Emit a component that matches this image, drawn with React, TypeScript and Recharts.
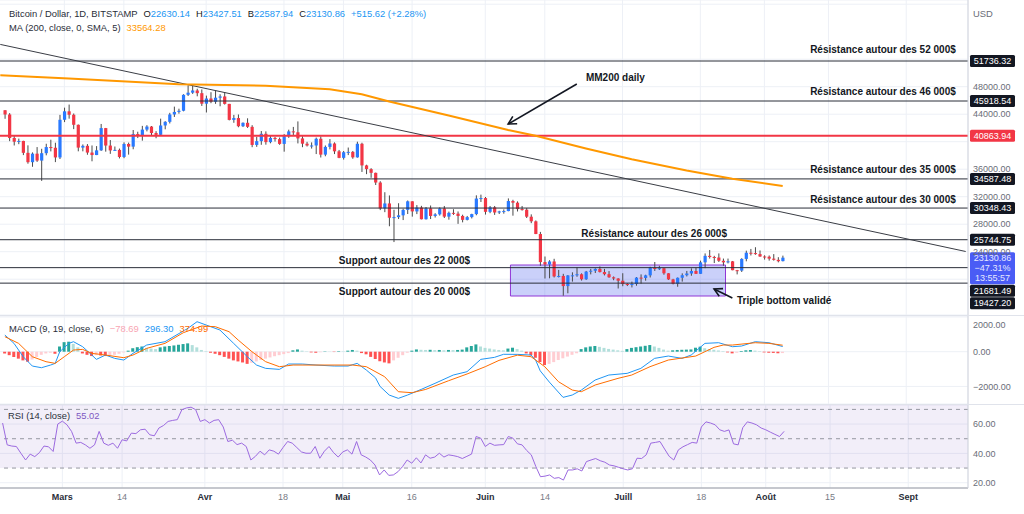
import React from 'react';
import {
  ComposedChart,
  Bar,
  Line,
  XAxis,
  YAxis,
  CartesianGrid,
  ReferenceLine,
  ReferenceArea,
  ReferenceDot,
  Cell,
} from 'recharts';

const FONT = '"Liberation Sans", Arial, sans-serif';
const UP = '#2979ff';
const DOWN = '#f23645';
const WICK = '#4a4a4a';
const GRID = '#edf0f6';

// time axis: one slot per day, 15 Feb 2022 -> 14 Sep 2022
const firstDay = Date.UTC(2022, 1, 15);
const days = Array.from({ length: 212 }, (_, i) =>
  new Date(firstDay + i * 86400000).toISOString().slice(5, 10)
);

const tickDays = ['03-01', '03-14', '04-01', '04-18', '05-01', '05-16', '06-01', '06-14', '07-01', '07-18', '08-01', '08-15', '09-01'];
const tickNames = ['Mars', '14', 'Avr', '18', 'Mai', '16', 'Juin', '14', 'Juill', '18', 'Août', '15', 'Sept'];
const monthNames = ['Mars', 'Avr', 'Mai', 'Juin', 'Juill', 'Août', 'Sept'];

// daily candles from 16 Feb: [open, high, low, close]
const seriesStart = '02-16';
const candles: number[][] = [
  [44575, 44580, 43330, 43960], [43960, 44160, 40080, 40540], [40540, 40950, 39450, 40000], [40000, 40450, 39640, 40110],
  [40110, 40140, 38050, 38380], [38380, 39470, 36800, 37020], [37020, 38440, 36350, 38260], [38260, 39220, 37060, 37250],
  [37250, 38970, 34300, 38330], [38330, 39700, 38020, 39220], [39220, 40290, 38590, 39120], [39120, 39850, 37030, 37710],
  [37710, 43900, 37480, 43190],
  // mars
  [43190, 44950, 42850, 44420], [44420, 45400, 43350, 43920], [43920, 44100, 41830, 42460], [42460, 42500, 38600, 39140],
  [39140, 39600, 38600, 39400], [39400, 39650, 38100, 38420], [38420, 39450, 37150, 38060], [38060, 39360, 38050, 38740],
  [38740, 42580, 38660, 41980], [41980, 42000, 38550, 39440], [39440, 40240, 38230, 38730], [38730, 39300, 38700, 38810],
  [38810, 39000, 37570, 37780], [37780, 39900, 37600, 39670], [39670, 39870, 38120, 39280], [39280, 41700, 38900, 41110],
  [41110, 41450, 40530, 40920], [40920, 42300, 40150, 41760], [41760, 42400, 41500, 42200], [42200, 42280, 40900, 41260],
  [41260, 41530, 40500, 41000], [41000, 43350, 40900, 42360], [42360, 42990, 41800, 42890], [42890, 44200, 42650, 43960],
  [43960, 45100, 43600, 44330], [44330, 44800, 44080, 44500], [44500, 46900, 44420, 46820], [46820, 48200, 46650, 47130],
  [47130, 48100, 46950, 47450], [47450, 47700, 46600, 47060], [47060, 47600, 45200, 45530],
  // avril
  [45530, 46700, 44250, 46280], [46280, 47200, 45600, 45810], [45810, 47450, 45500, 46400], [46400, 46900, 45150, 46580],
  [46580, 47200, 45400, 45500], [45500, 45500, 43100, 43170], [43170, 43900, 42750, 43440], [43440, 43960, 42100, 42250],
  [42250, 42800, 42130, 42750], [42750, 43400, 42000, 42160], [42160, 42400, 39200, 39530], [39530, 40700, 39250, 40080],
  [40080, 41550, 39550, 41150], [41150, 41500, 39570, 39940], [39940, 40870, 39770, 40550], [40550, 40700, 40020, 40380],
  [40380, 40600, 39550, 39680], [39680, 41100, 38550, 40800], [40800, 41750, 40560, 41500], [41500, 42150, 40850, 41370],
  [41370, 42950, 39750, 40480], [40480, 40800, 39200, 39710], [39710, 39980, 39300, 39450], [39450, 39900, 39000, 39450],
  [39450, 40600, 38200, 40430], [40430, 40780, 37700, 38120], [38120, 39450, 37880, 39240], [39240, 40380, 38880, 39740],
  [39740, 39900, 38200, 38600], [38600, 38800, 37600, 37650],
  // mai
  [37650, 38650, 37400, 38470], [38470, 39150, 38050, 38520], [38520, 38650, 37520, 37720], [37720, 40000, 37680, 39700],
  [39700, 39850, 35600, 36550], [36550, 36650, 35280, 36010], [36010, 36150, 34750, 35470], [35470, 35500, 33700, 34060],
  [34060, 34250, 30050, 30300], [30300, 32650, 29750, 31020], [31020, 32180, 27700, 28940], [28940, 30100, 25400, 29030],
  [29030, 31050, 28750, 29290], [29290, 30250, 28600, 30080], [30080, 31450, 29480, 31330], [31330, 31330, 29100, 29860],
  [29860, 30780, 29470, 30420], [30420, 30670, 28700, 28720], [28720, 30500, 28680, 30300], [30300, 30720, 28750, 29200],
  [29200, 29600, 28970, 29430], [29430, 30450, 29250, 30290], [30290, 30650, 28900, 29100], [29100, 29830, 28660, 29650],
  [29650, 30180, 29350, 29540], [29540, 29850, 28050, 29200], [29200, 29380, 28270, 28630], [28630, 29200, 28550, 29030],
  [29030, 29520, 28840, 29470], [29470, 32200, 29300, 31730], [31730, 32300, 31230, 31800],
  // juin
  [31800, 31960, 29400, 29800], [29800, 30650, 29600, 30450], [30450, 30650, 29350, 29700], [29700, 29950, 29480, 29860],
  [29860, 30150, 29530, 29910], [29910, 31750, 29880, 31370], [31370, 31550, 29240, 31130], [31130, 31320, 29850, 30200],
  [30200, 30650, 29980, 30110], [30110, 30330, 28900, 29090], [29090, 29430, 28150, 28420], [28420, 28550, 26560, 26570],
  [26570, 26880, 21950, 22490], [22490, 23300, 20100, 22140], [22140, 22770, 20130, 22580], [22580, 22970, 20250, 20400],
  [20400, 21350, 20250, 20470], [20470, 20780, 17600, 19000], [19000, 20600, 17950, 20550], [20550, 21000, 19650, 20560],
  [20560, 21700, 20350, 20720], [20720, 20850, 19800, 19990], [19990, 21200, 19900, 21100], [21100, 21500, 20700, 21230],
  [21230, 21580, 20900, 21500], [21500, 21850, 20980, 21040], [21040, 21500, 20550, 20730], [20730, 21180, 20200, 20280],
  [20280, 20400, 19850, 20100], [20100, 20150, 18650, 19780],
  // juillet
  [19780, 20870, 18980, 19300], [19300, 19420, 19000, 19250], [19250, 19650, 18800, 19300], [19300, 20300, 19050, 20230],
  [20230, 20700, 19350, 20180], [20180, 20650, 19780, 20560], [20560, 21800, 20250, 21640], [21640, 22500, 21200, 21600],
  [21600, 21950, 21350, 21600], [21600, 21600, 20650, 20860], [20860, 20870, 19900, 19970], [19970, 20050, 19250, 19330],
  [19330, 20250, 18900, 20210], [20210, 20850, 19650, 20580], [20580, 21200, 20400, 20830], [20830, 21580, 20500, 21190],
  [21190, 21670, 20780, 20780], [20780, 22700, 20770, 22450], [22450, 23750, 21600, 23400], [23400, 24250, 23000, 23230],
  [23230, 23400, 22350, 23150], [23150, 23750, 22500, 22680], [22680, 23000, 21950, 22450], [22450, 23000, 22300, 22600],
  [22600, 22650, 21300, 21310], [21310, 21350, 20700, 21250], [21250, 23050, 21050, 22950], [22950, 24150, 22600, 23850],
  [23850, 24400, 23450, 23800], [23800, 24650, 23550, 23650], [23650, 24180, 23250, 23300],
  // août
  [23300, 23480, 22850, 23270], [23270, 23450, 22700, 22990], [22990, 23650, 22700, 22820], [22820, 23200, 22450, 22615.24],
  [22630.14, 23427.51, 22587.94, 23130.86],
];

// 200 day moving average, read every few days
const ma200: [string, number][] = [
  ['02-15', 49650], ['03-02', 49200], ['03-26', 48350], ['04-14', 48150], ['04-28', 47620], ['05-05', 46900],
  ['05-11', 45850], ['05-24', 43800], ['06-06', 41700], ['06-12', 40860], ['06-23', 39000], ['07-03', 37460],
  ['07-15', 35800], ['07-25', 34600], ['08-05', 33564.28],
];

// drawn trend line (two anchors)
const trendLine: [string, number][] = [['02-15', 54150], ['09-14', 24030]];

const levels = [51736.32, 45918.54, 40863.94, 34587.48, 30348.43, 25744.75, 21681.49, 19427.2];
const lastClose = 23130.86;

const macdLine: [string, number][] = [
  ['02-16', 960], ['02-18', 480], ['02-20', -288], ['02-22', -826], ['02-24', -922], ['02-26', -768], ['02-27', -672],
  ['02-28', 0], ['03-02', 480], ['03-03', 576], ['03-05', 288], ['03-07', -192], ['03-08', -442], ['03-10', -192],
  ['03-12', -384], ['03-14', -480], ['03-16', -96], ['03-19', 384], ['03-23', 576], ['03-28', 1344], ['03-30', 1728],
  ['04-01', 1536], ['04-04', 1248], ['04-07', 480], ['04-10', -288], ['04-12', -768], ['04-14', -960], ['04-17', -1018],
  ['04-19', -710], ['04-22', -710], ['04-25', -768], ['04-29', -826], ['05-02', -826], ['05-04', -672], ['05-06', -1056],
  ['05-08', -1500], ['05-09', -2000], ['05-11', -2496], ['05-13', -2688], ['05-15', -2496], ['05-18', -2170],
  ['05-21', -1824], ['05-25', -1344], ['05-28', -1152], ['05-31', -442], ['06-03', -326], ['06-05', -150], ['06-08', -154],
  ['06-11', -192], ['06-12', -480], ['06-13', -1100], ['06-15', -1750], ['06-18', -2630], ['06-20', -2496],
  ['06-22', -2208], ['06-25', -1632], ['06-28', -1344], ['07-02', -1248], ['07-05', -960], ['07-08', -384],
  ['07-11', -250], ['07-14', -384], ['07-16', -192], ['07-19', 480], ['07-22', 518], ['07-25', 288], ['07-27', 326],
  ['07-30', 576], ['08-02', 518], ['08-05', 296.3],
];

const signalLine: [string, number][] = [
  ['02-16', 864], ['02-19', 480], ['02-22', -288], ['02-25', -576], ['02-27', -672], ['03-01', -288], ['03-03', 96],
  ['03-05', 134], ['03-07', -96], ['03-10', -192], ['03-14', -346], ['03-16', -192], ['03-19', 192], ['03-23', 480],
  ['03-27', 1094], ['03-31', 1478], ['04-03', 1440], ['04-06', 1152], ['04-08', 672], ['04-11', 0], ['04-14', -576],
  ['04-17', -864], ['04-20', -768], ['04-25', -768], ['05-03', -768], ['05-06', -864], ['05-10', -1440], ['05-13', -2304],
  ['05-16', -2362], ['05-19', -2170], ['05-24', -1670], ['05-28', -1286], ['06-01', -864], ['06-04', -500],
  ['06-08', -200], ['06-11', -288], ['06-14', -864], ['06-17', -1728], ['06-20', -2208], ['06-22', -2304],
  ['06-25', -1920], ['06-30', -1536], ['07-03', -1344], ['07-07', -864], ['07-11', -480], ['07-17', -250],
  ['07-19', 0], ['07-21', 250], ['07-23', 384], ['07-25', 384], ['07-30', 518], ['08-02', 480], ['08-05', 374.99],
];

// MACD histogram, daily from 16 Feb
const histogram = [
  -100, -200, -300, -400, -500, -576, -450, -300, -180, -100, -60, -120, 300,
  550, 576, 450, 250, -100, -180, -250, -200, -220, -250, -200, -180, -120, -40, 60, 200, 260, 300, 220, 180, 150, 250, 300, 330, 360, 400, 440, 480, 380, 250, 100,
  30, -60, -120, -200, -300, -400, -500, -560, -620, -700, -640, -560, -480, -400, -330, -260, -200, -140, -80, 80, 130, 60, 20, -40, -60, -30, 20, 10, -20, 30,
  20, 60, 100, 60, -80, -150, -300, -420, -550, -620, -672, -500, -350, -200, -60, 60, 130, 110, 100, 110, 90, 100, 80, 100, 90, 100, 120, 250, 330, 420, 300,
  220, 180, 130, 100, 80, 180, 230, 150, 60, -100, -200, -350, -600, -768, -700, -600, -480, -380, -280, -180, -90, 150, 250, 300, 330, 280, 220, 160, 120, 80,
  50, 150, 220, 260, 300, 340, 384, 300, 220, 120, 60, 80, 100, 110, 120, 130, 230, 290, 200, 150, 110, 70, 30, -40, -96, -60, 40, 80, 96, 60, 30,
  -40, -60, -70, -90, -78.69,
];

// RSI 14, daily from 16 Feb
const rsiValues = [
  60.7, 45.8, 45, 44.7, 40, 35.5, 39.5, 37.8, 40.5, 45, 44.5, 41.3, 60,
  62, 59.5, 55, 47, 47.5, 45.8, 43.5, 45.8, 55, 47, 45.5, 47, 43.5, 49.3, 48.5, 53.8, 53.5, 56.1, 56.5, 52.7, 52, 57.3, 59, 61.8, 62.5, 63, 69.8, 71, 71.5, 69.8, 61.8,
  63, 60.7, 62.5, 63, 58, 48.1, 49, 46, 47, 44.7, 35.5, 38, 41.5, 39, 42.4, 41.5, 39.5, 44, 48.1, 47, 44, 41, 40.1, 40.1, 44.7, 36.7, 41.5, 44.7, 40.5, 37.5,
  41, 42.4, 39.5, 48.1, 39, 37.5, 35.5, 32.1, 25.3, 28.7, 25, 25.3, 27.5, 31, 35.5, 33.3, 37, 33.5, 39, 36.7, 37.5, 40.1, 37.5, 39, 38.5, 37.8, 36.5, 38, 39.5, 51.5, 50.4,
  44.7, 47, 45.5, 45.8, 46, 51.5, 50.4, 46.5, 45.8, 42, 39, 31, 24.1, 24.5, 25.3, 23, 23.5, 21.8, 28.7, 28.7, 29.5, 28, 34.4, 35.5, 36.5, 35, 34, 32.1, 31.5, 30.5,
  29.5, 28.7, 29.5, 36.7, 36.5, 39, 47, 47.5, 48.1, 43, 38, 35.5, 42.4, 44.5, 46, 47.5, 47, 58, 61.5, 60.7, 59.5, 56.1, 55, 56, 46.5, 45.8, 57.5, 61.5, 60.7, 59.5, 57.3,
  56.1, 54.5, 53, 51.5, 55.02,
];

// text drawings on the price pane, anchored at a day and a price
const notes = [
  { text: 'Résistance autour des 52 000$', day: '08-11', price: 53340 },
  { text: 'Résistance autour des 46 000$', day: '08-11', price: 47230 },
  { text: 'Résistance autour des 35 000$', day: '08-11', price: 35890 },
  { text: 'Résistance autour des 30 000$', day: '08-11', price: 31530 },
  { text: 'Résistance autour des 26 000$', day: '06-22', price: 26720 },
  { text: 'Support autour des 22 000$', day: '04-30', price: 22650 },
  { text: 'Support autour des 20 000$', day: '04-30', price: 18140 },
  { text: 'MM200 daily', day: '06-23', price: 49270 },
  { text: 'Triple bottom validé', day: '07-26', price: 16830 },
];
const arrows = [
  [{ x: '06-21', y: 48390 }, { x: '06-06', y: 42570 }],
  [{ x: '07-25', y: 17270 }, { x: '07-21', y: 18580 }],
];

const priceTicks = [16000, 20000, 24000, 28000, 32000, 36000, 40000, 44000, 48000, 52000, 56000, 60000];
// price labels that sit under a price tag (only the grid line shows)
const coveredTicks = [16000, 20000, 40000, 52000, 60000];

const maMap = new Map(ma200);
const trendMap = new Map(trendLine);
const macdMap = new Map(macdLine);
const signalMap = new Map(signalLine);
const offset = days.indexOf(seriesStart);

const rows = days.map((day, i) => {
  const k = i - offset;
  const cd = k >= 0 && k < candles.length ? candles[k] : null;
  return {
    day,
    candle: cd ? { o: cd[0], h: cd[1], l: cd[2], c: cd[3] } : null,
    range: cd ? [cd[2], cd[1]] : null,
    ma: maMap.get(day) ?? null,
    trend: trendMap.get(day) ?? null,
    macd: macdMap.get(day) ?? null,
    signal: signalMap.get(day) ?? null,
    hist: k >= 0 && k < histogram.length ? histogram[k] : null,
    rsi: k >= 0 && k < rsiValues.length ? rsiValues[k] : null,
  };
});

const histColors = rows.map((r, i) => {
  const v = r.hist;
  if (v == null) return 'none';
  const prev = i > 0 && rows[i - 1].hist != null ? rows[i - 1].hist : 0;
  if (v >= 0) return v >= prev ? '#26a69a' : '#b2dfdb';
  return v < prev ? '#ff5252' : '#ffcdd2';
});

const fmt = (v: number) => (v < 0 ? '\u2212' : '') + Math.abs(v).toFixed(2);

function Candle(props: any) {
  const { x, y, width, height, payload } = props;
  const cd = payload && payload.candle;
  if (!cd || height == null || isNaN(y)) return null;
  const k = cd.h > cd.l ? height / (cd.h - cd.l) : 0;
  const cx = x + width / 2;
  const yo = y + (cd.h - cd.o) * k;
  const yc = y + (cd.h - cd.c) * k;
  const color = cd.c >= cd.o ? UP : DOWN;
  return (
    <g>
      <line x1={cx} x2={cx} y1={y} y2={y + height} stroke={WICK} strokeWidth={1} />
      <rect x={cx - 1.6} y={Math.min(yo, yc)} width={3.2} height={Math.max(1, Math.abs(yo - yc))} fill={color} />
    </g>
  );
}

function AxisTick(props: any) {
  const { x, y, payload, skip } = props;
  if (skip && skip.includes(payload.value)) return null;
  return (
    <text x={x + 5} y={y} dy="0.35em" fontSize={9} fontFamily={FONT} fill="#6a6d78">
      {fmt(payload.value)}
    </text>
  );
}

function DateTick(props: any) {
  const { x, y, payload } = props;
  const name = tickNames[tickDays.indexOf(payload.value)];
  const month = monthNames.includes(name);
  return (
    <text x={x} y={y + 12} textAnchor="middle" fontSize={9} fontFamily={FONT}
      fontWeight={month ? 700 : 400} fill={month ? '#2a2e39' : '#787b86'}>
      {name}
    </text>
  );
}

function PriceTag(props: any) {
  const { viewBox, tagText, tagBg, tagShift = 0 } = props;
  if (!viewBox) return null;
  const x = viewBox.x + viewBox.width + 2;
  const y = viewBox.y + tagShift;
  return (
    <g>
      <rect x={x} y={y - 6} width={45} height={12} rx={1.5} fill={tagBg} />
      <text x={x + 22.5} y={y} dy="0.35em" textAnchor="middle" fontSize={9} fontFamily={FONT} fill="#fff">
        {tagText}
      </text>
    </g>
  );
}

function LastTag(props: any) {
  const { viewBox, tagLines } = props;
  if (!viewBox) return null;
  const x = viewBox.x + viewBox.width + 2;
  const y = viewBox.y;
  return (
    <g>
      <rect x={x} y={y - 5.5} width={45} height={32} rx={1.5} fill="#4a5cf5" />
      {tagLines.map((t: string, k: number) => (
        <text key={k} x={x + 22.5} y={y + k * 10} dy="0.35em" textAnchor="middle" fontSize={9}
          fontFamily={FONT} fill="#e6e9ff">
          {t}
        </text>
      ))}
    </g>
  );
}

function Arrow(props: any) {
  const { x1, y1, x2, y2 } = props;
  const a = Math.atan2(y2 - y1, x2 - x1);
  const s = 9;
  const p1 = `${x2 - s * Math.cos(a - 0.5)},${y2 - s * Math.sin(a - 0.5)}`;
  const p2 = `${x2 - s * Math.cos(a + 0.5)},${y2 - s * Math.sin(a + 0.5)}`;
  return (
    <g stroke="#131722" strokeWidth={1.6} fill="none">
      <line x1={x1} y1={y1} x2={x2} y2={y2} />
      <polyline points={`${p1} ${x2},${y2} ${p2}`} />
    </g>
  );
}

const noteShape = (text: string) => (p: any) => (
  <text x={p.cx} y={p.cy} dy="0.35em" fontSize={10} fontWeight={700} fontFamily={FONT} fill="#131722">
    {text}
  </text>
);

const tagShift: Record<number, number> = { 21681.49: 23, 19427.2: 20 };

const label = (extra: React.CSSProperties = {}) => ({
  fontFamily: FONT,
  fontSize: 9.4,
  color: '#131722',
  position: 'absolute' as const,
  whiteSpace: 'nowrap' as const,
  ...extra,
});

export default function App() {
  return (
    <div style={{ position: 'absolute', left: 0, top: 0, width: 1024, height: 514, background: '#fff', overflow: 'hidden' }}>
      {/* price pane */}
      <div style={{ position: 'absolute', left: -2, top: 0 }}>
        <ComposedChart width={1026} height={315} data={rows} margin={{ top: 0, right: 0, bottom: 0, left: 0 }} barCategoryGap={0}>
          <CartesianGrid stroke={GRID} />
          <XAxis dataKey="day" hide ticks={tickDays} interval={0} />
          <YAxis orientation="right" width={56} domain={[14793, 60611]} ticks={priceTicks} allowDataOverflow
            tick={<AxisTick skip={coveredTicks} />} tickLine={false} tickSize={0} tickMargin={0} axisLine={{ stroke: '#d1d4dc' }} />
          <ReferenceArea x1="06-07" x2="07-23" y1={17556} y2={22065} fill="#5b6cf0" fillOpacity={0.32}
            stroke="#9036d6" strokeWidth={1} />
          {levels.map((v) => (
            <ReferenceLine key={v} y={v} stroke={v === 40863.94 ? '#f23645' : '#2a2e39'}
              strokeWidth={v === 40863.94 ? 2 : 1}
              label={<PriceTag tagText={v.toFixed(2)} tagBg={v === 40863.94 ? '#f23645' : '#131722'} tagShift={tagShift[v] || 0} />} />
          ))}
          <ReferenceLine y={lastClose} stroke="none"
            label={<LastTag tagLines={[lastClose.toFixed(2), '\u221247.31%', '13:55:57']} />} />
          <Line dataKey="trend" stroke="#3a3d45" strokeWidth={1} dot={false} activeDot={false} connectNulls isAnimationActive={false} />
          <Line dataKey="ma" stroke="#ff9800" strokeWidth={2} dot={false} activeDot={false} connectNulls isAnimationActive={false} />
          <Bar dataKey="range" shape={<Candle />} isAnimationActive={false} />
          {arrows.map((seg, i) => (
            <ReferenceLine key={'a' + i} segment={seg} shape={(p: any) => <Arrow {...p} />} />
          ))}
          {notes.map((n) => (
            <ReferenceDot key={n.text} x={n.day} y={n.price} r={0} shape={noteShape(n.text)} />
          ))}
        </ComposedChart>
      </div>

      {/* MACD pane */}
      <div style={{ position: 'absolute', left: -2, top: 316 }}>
        <ComposedChart width={1026} height={88} data={rows} margin={{ top: 0, right: 0, bottom: 0, left: 0 }} barCategoryGap="12%">
          <CartesianGrid stroke={GRID} />
          <XAxis dataKey="day" hide ticks={tickDays} interval={0} />
          <YAxis orientation="right" width={56} domain={[-3012, 2056]} ticks={[-2000, 0, 2000]} allowDataOverflow
            tick={<AxisTick />} tickLine={false} tickSize={0} tickMargin={0} axisLine={{ stroke: '#d1d4dc' }} />
          <Bar dataKey="hist" isAnimationActive={false}>
            {rows.map((r, i) => (
              <Cell key={r.day} fill={histColors[i]} />
            ))}
          </Bar>
          <Line dataKey="macd" stroke="#2196f3" strokeWidth={1} dot={false} activeDot={false} connectNulls isAnimationActive={false} />
          <Line dataKey="signal" stroke="#ff6d00" strokeWidth={1} dot={false} activeDot={false} connectNulls isAnimationActive={false} />
        </ComposedChart>
      </div>

      {/* RSI pane + time axis */}
      <div style={{ position: 'absolute', left: -2, top: 405 }}>
        <ComposedChart width={1026} height={109} data={rows} margin={{ top: 0, right: 0, bottom: 0, left: 0 }}>
          <CartesianGrid stroke={GRID} />
          <XAxis dataKey="day" ticks={tickDays} interval={0} height={26} tick={<DateTick />} tickLine={false}
            tickSize={0} tickMargin={0} axisLine={{ stroke: '#9598a1' }} />
          <YAxis orientation="right" width={56} domain={[16.4, 73]} ticks={[20, 40, 60]} allowDataOverflow
            tick={<AxisTick />} tickLine={false} tickSize={0} tickMargin={0} axisLine={{ stroke: '#d1d4dc' }} />
          <ReferenceArea y1={30} y2={73} fill="#7e57c2" fillOpacity={0.1} stroke="none" />
          {[70, 50, 30].map((v) => (
            <ReferenceLine key={v} y={v} stroke="#9598a1" strokeDasharray="4 4" />
          ))}
          <Line dataKey="rsi" stroke="#9c6ae0" strokeWidth={1} dot={false} activeDot={false} isAnimationActive={false} />
        </ComposedChart>
      </div>

      {/* pane separators */}
      <div style={{ position: 'absolute', left: 0, top: 315, width: 1024, height: 1, background: '#e0e3eb' }} />
      <div style={{ position: 'absolute', left: 0, top: 404, width: 1024, height: 1, background: '#e0e3eb' }} />

      {/* legends */}
      <div style={label({ left: 9, top: 8 })}>
        <span style={{ color: '#2a2e39' }}>Bitcoin / Dollar, 1D, BITSTAMP</span>
        <span style={{ marginLeft: 6 }}>O<span style={{ color: '#2196f3' }}>22630.14</span></span>
        <span style={{ marginLeft: 6 }}>H<span style={{ color: '#2196f3' }}>23427.51</span></span>
        <span style={{ marginLeft: 6 }}>B<span style={{ color: '#2196f3' }}>22587.94</span></span>
        <span style={{ marginLeft: 6 }}>C<span style={{ color: '#2196f3' }}>23130.86</span></span>
        <span style={{ marginLeft: 6, color: '#2196f3' }}>+515.62 (+2.28%)</span>
      </div>
      <div style={label({ left: 9, top: 22 })}>
        <span style={{ color: '#2a2e39' }}>MA (200, close, 0, SMA, 5)</span>
        <span style={{ marginLeft: 6, color: '#ff9800' }}>33564.28</span>
      </div>
      <div style={label({ left: 973, top: 8, color: '#6a6d78' })}>USD</div>
      <div style={label({ left: 9, top: 323 })}>
        <span style={{ color: '#2a2e39' }}>MACD (9, 19, close, 6)</span>
        <span style={{ marginLeft: 6, color: '#f8a5b3' }}>{'\u2212'}78.69</span>
        <span style={{ marginLeft: 6, color: '#2196f3' }}>296.30</span>
        <span style={{ marginLeft: 6, color: '#ff6d00' }}>374.99</span>
      </div>
      <div style={label({ left: 8, top: 410 })}>
        <span style={{ color: '#2a2e39' }}>RSI (14, close)</span>
        <span style={{ marginLeft: 6, color: '#7e57c2' }}>55.02</span>
      </div>
    </div>
  );
}
